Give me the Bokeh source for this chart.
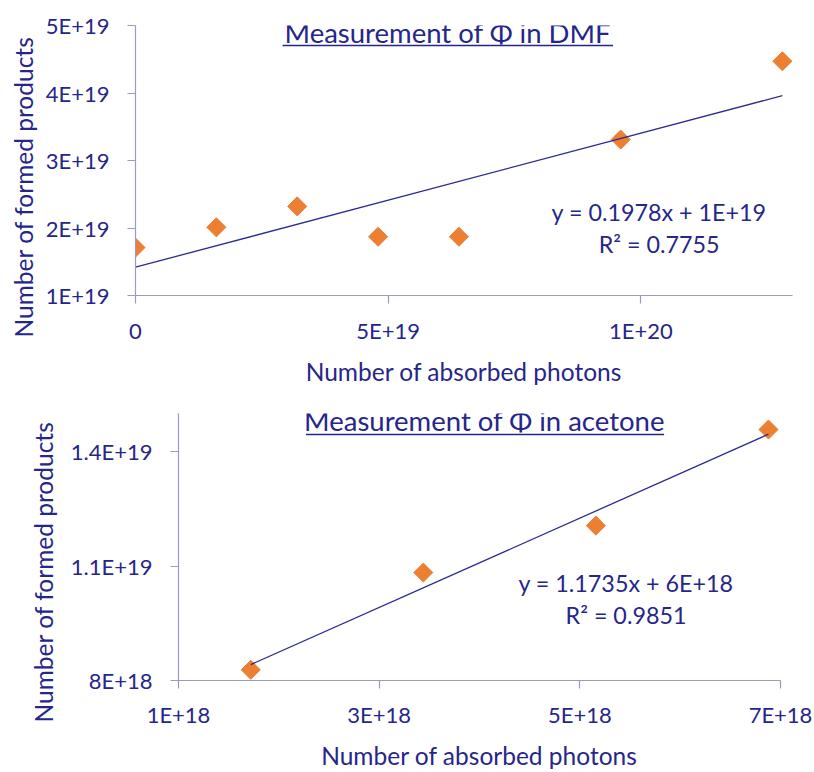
import numpy as np
from bokeh.plotting import figure
from bokeh.models import FixedTicker, Range1d, Title
from bokeh.core.properties import value
from bokeh.embed import file_html
from bokeh.resources import INLINE

# ---- data ----
dmf_photons = [0, 1.6e19, 3.2e19, 4.8e19, 6.4e19, 9.6e19, 1.28e20]
dmf_products = [1.71e19, 2.01e19, 2.32e19, 1.87e19, 1.87e19, 3.31e19, 4.47e19]
dmf_xticks = [0, 5e19, 1e20]
dmf_xlabels = ["0", "5E+19", "1E+20"]
dmf_yticks = [1e19, 2e19, 3e19, 4e19, 5e19]
dmf_ylabels = ["1E+19", "2E+19", "3E+19", "4E+19", "5E+19"]
dmf_eq = ["y = 0.1978x + 1E+19", "R² = 0.7755"]

ac_photons = [1.72e18, 3.44e18, 5.16e18, 6.88e18]
ac_products = [8.28e18, 1.083e19, 1.206e19, 1.458e19]
ac_xticks = [1e18, 3e18, 5e18, 7e18]
ac_xlabels = ["1E+18", "3E+18", "5E+18", "7E+18"]
ac_yticks = [8e18, 1.1e19, 1.4e19]
ac_ylabels = ["8E+18", "1.1E+19", "1.4E+19"]
ac_eq = ["y = 1.1735x + 6E+18", "R² = 0.9851"]

X_TITLE = "Number of absorbed photons"
Y_TITLE = "Number of formed products"

FONT = "Lato"
TXT = "#26268a"
AX = "#9b9bc2"
ORANGE = "#ec7f32"


def style(p, xt, xl, yt, yl, xstand, ystand):
    p.outline_line_color = None
    p.xgrid.visible = False
    p.ygrid.visible = False
    for ax in (p.xaxis[0], p.yaxis[0]):
        ax.axis_line_color = AX
        ax.axis_line_width = 1.2
        ax.major_tick_line_color = AX
        ax.major_tick_line_width = 1.2
        ax.major_tick_out = 8
        ax.major_tick_in = 0
        ax.minor_tick_line_color = None
        ax.major_label_text_font = FONT
        ax.major_label_text_font_size = "22px"
        ax.major_label_text_color = TXT
        ax.axis_label_text_font = FONT
        ax.axis_label_text_font_size = "24.5px"
        ax.axis_label_text_font_style = "normal"
        ax.axis_label_text_color = TXT
    p.xaxis[0].ticker = FixedTicker(ticks=xt)
    p.xaxis[0].major_label_overrides = {t: s for t, s in zip(xt, xl)}
    p.yaxis[0].ticker = FixedTicker(ticks=yt)
    p.yaxis[0].major_label_overrides = {t: s for t, s in zip(yt, yl)}
    p.xaxis[0].axis_label = X_TITLE
    p.xaxis[0].major_label_standoff = xstand[0]
    p.xaxis[0].axis_label_standoff = xstand[1]
    p.yaxis[0].major_label_standoff = ystand


def panel(xs, ys, xr, yr, w, h, borders, xt, xl, yt, yl, xstand, ystand,
          title, tpos, eq, epos, uline, yoff, ystd):
    p = figure(width=w, height=h, output_backend="svg", toolbar_location=None,
               x_range=Range1d(*xr), y_range=Range1d(*yr),
               min_border_left=borders[0], min_border_right=borders[1],
               min_border_top=borders[2], min_border_bottom=borders[3])
    style(p, xt, xl, yt, yl, xstand, ystand)
    x = np.array(xs, dtype=float)
    y = np.array(ys, dtype=float)
    p.scatter(x, y, marker="square", angle=np.pi / 4, size=13.5,
              fill_color=ORANGE, line_color=ORANGE)
    m, b = np.polyfit(x, y, 1)
    xf = np.array([x.min(), x.max()])
    p.line(xf, m * xf + b, line_color="#2b2b90", line_width=1.3)
    p.text(x=[tpos[0]], y=[tpos[1]], text=[title], text_align="center",
           text_baseline="alphabetic", text_font=value(FONT),
           text_font_size="27.5px", text_color=TXT)
    p.segment(x0=[uline[0]], y0=[uline[2]], x1=[uline[1]], y1=[uline[2]],
              line_color=TXT, line_width=1.6)
    p.text(x=[epos[0], epos[0]], y=[epos[1], epos[2]], text=eq, text_align="center",
           text_baseline="alphabetic", text_font=value(FONT),
           text_font_size="23.3px", text_color=TXT)
    p.add_layout(Title(text=Y_TITLE, align="left", offset=yoff, standoff=ystd,
                       text_font=FONT, text_font_size="24.5px",
                       text_font_style="normal", text_color=TXT), "left")
    return p


p1 = panel(dmf_photons, dmf_products, (0, 1.3e20), (1e19, 5e19), 814, 390,
           (135, 22, 25, 95), dmf_xticks, dmf_xlabels, dmf_yticks, dmf_ylabels,
           (13, 10), 18,
           "Measurement of Φ in DMF", (6.18e19, 4.896e19),
           dmf_eq, (1.036e20, 2.244e19, 1.770e19), (2.91e19, 9.45e19, 4.704e19),
           -42, 10)
p2 = panel(ac_photons, ac_products, (1e18, 7e18), (8e18, 1.5e19), 814, 382,
           (178, 34, 23, 87), ac_xticks, ac_xlabels, ac_yticks, ac_ylabels,
           (12, 10), 18,
           "Measurement of Φ in acetone", (4.05e18, 1.481e19),
           ac_eq, (5.46e18, 1.0545e19, 9.722e18), (2.27e18, 5.84e18, 1.445e19),
           -42, 20)

open("out.html", "w").write(file_html([p1, p2], INLINE))
